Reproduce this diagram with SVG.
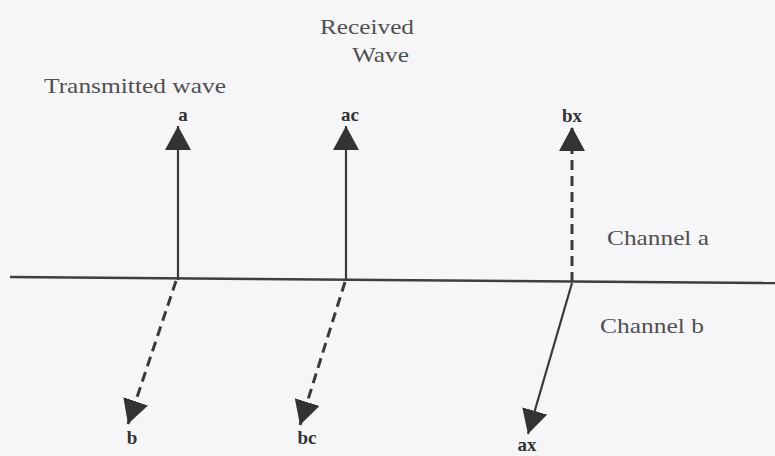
<svg xmlns="http://www.w3.org/2000/svg" width="775" height="456" viewBox="0 0 775 456">
  <style>
    .cap { font-family: "Liberation Serif", "Times New Roman", serif; font-size: 22px; fill: #505050; }
    .lbl { font-family: "Liberation Serif", "Times New Roman", serif; font-size: 19px; font-weight: bold; fill: #333333; text-anchor: middle; }
    .solid { stroke: #3a3a3a; stroke-width: 2.2; fill: none; }
    .dash { stroke: #3a3a3a; stroke-width: 3; fill: none; stroke-dasharray: 10 6; }
    .axis { stroke: #3f3f3f; stroke-width: 2.5; fill: none; }
  </style>
  <defs>
    <marker id="head" viewBox="0 0 24 26" refX="24" refY="13" markerWidth="24" markerHeight="26" markerUnits="userSpaceOnUse" orient="auto">
      <path d="M0,0 L24,13 L0,26 z" fill="#333333"/>
    </marker>
  </defs>
  <rect width="775" height="456" fill="#f6f5f7"/>

  <g id="captions">
    <text class="cap" x="44" y="93" textLength="182" lengthAdjust="spacingAndGlyphs">Transmitted wave</text>
    <text class="cap" x="320" y="34" textLength="94" lengthAdjust="spacingAndGlyphs">Received</text>
    <text class="cap" x="352" y="62" textLength="57" lengthAdjust="spacingAndGlyphs">Wave</text>
    <text class="cap" x="607" y="245" textLength="102" lengthAdjust="spacingAndGlyphs">Channel a</text>
    <text class="cap" x="600" y="333" textLength="104" lengthAdjust="spacingAndGlyphs">Channel b</text>
  </g>

  <g id="boundary">
    <line class="axis" x1="10" y1="277" x2="775" y2="283"/>
  </g>

  <g id="connectors">
    <line class="solid" x1="178" y1="280" x2="178" y2="126" marker-end="url(#head)"/>
    <line class="solid" x1="346" y1="281" x2="346" y2="126" marker-end="url(#head)"/>
    <line class="dash" x1="572" y1="282" x2="572" y2="127" marker-end="url(#head)"/>
    <line class="dash" x1="176" y1="281" x2="128" y2="424" marker-end="url(#head)"/>
    <line class="dash" x1="345" y1="282" x2="300" y2="425" marker-end="url(#head)"/>
    <line class="solid" x1="572" y1="283" x2="528" y2="434" stroke-width="2.6" marker-end="url(#head)"/>
  </g>

  <g id="node-a"><text class="lbl" x="183" y="121">a</text></g>
  <g id="node-ac"><text class="lbl" x="350" y="121">ac</text></g>
  <g id="node-bx"><text class="lbl" x="572" y="122">bx</text></g>
  <g id="node-b"><text class="lbl" x="132" y="444">b</text></g>
  <g id="node-bc"><text class="lbl" x="307" y="444">bc</text></g>
  <g id="node-ax"><text class="lbl" x="527" y="451">ax</text></g>
</svg>
